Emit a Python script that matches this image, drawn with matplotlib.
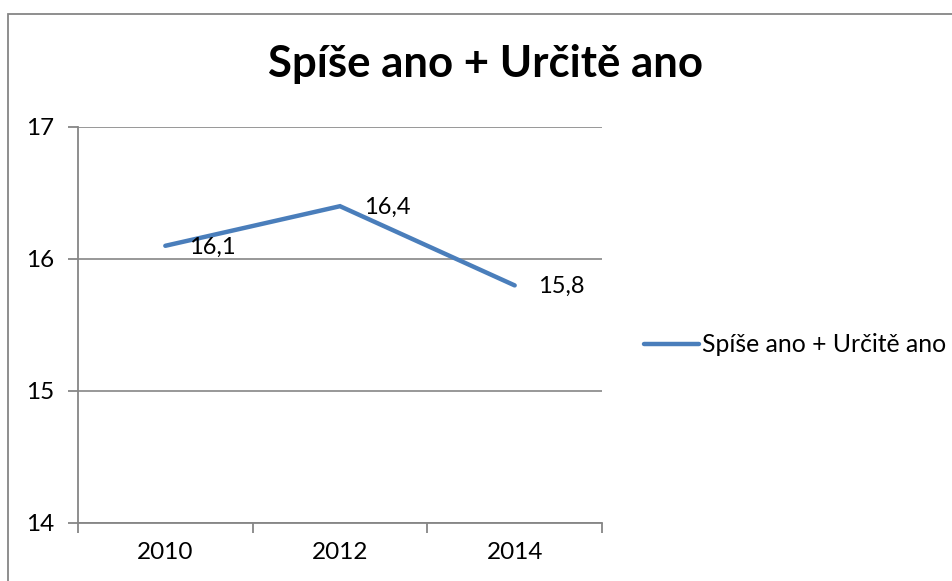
import matplotlib.pyplot as plt
from matplotlib.patches import Rectangle

plt.rcParams['font.family'] = ['Lato', 'DejaVu Sans']

years = ['2010', '2012', '2014']
values = [16.1, 16.4, 15.8]
labels = ['16,1', '16,4', '15,8']
series_name = 'Spíše ano + Určitě ano'

W, H = 952, 581
fig = plt.figure(figsize=(W / 100, H / 100), dpi=100)
ax = fig.add_axes([78 / W, 1 - 523 / H, (602 - 78) / W, (523 - 127) / H])

gray = '#868686'
blue = '#4a7ebb'

x = list(range(len(years)))
ax.plot(x, values, color=blue, lw=3.2, solid_capstyle='round',
        solid_joinstyle='miter', label=series_name, zorder=3)
for xi, v, lab in zip(x, values, labels):
    ax.annotate(lab, (xi, v), xytext=(17, -1), textcoords='offset points',
                ha='left', va='center', fontsize=17)

ax.set_xlim(-0.5, len(years) - 0.5)
ax.set_ylim(14, 17)
ax.set_yticks([14, 15, 16, 17])
ax.set_yticklabels(['14', '15', '16', '17'], fontsize=17.5)
ax.set_xticks(x)
ax.set_xticklabels(years, fontsize=17.5)
ax.set_xticks([i - 0.5 for i in range(len(years) + 1)], minor=True)
ax.tick_params(axis='x', which='major', length=0, pad=14)
ax.tick_params(axis='x', which='minor', length=7, color=gray, width=1.3)
ax.tick_params(axis='y', length=7, color=gray, width=1.3, pad=10)

ax.grid(axis='y', color=gray, lw=1.2)
ax.set_axisbelow(True)
for s in ['top', 'right']:
    ax.spines[s].set_visible(False)
for s in ['left', 'bottom']:
    ax.spines[s].set_color(gray)
    ax.spines[s].set_linewidth(1.3)

fig.text(486 / W, 1 - 64 / H, series_name, ha='center', va='center',
         fontsize=31.5, fontweight='bold')

leg = fig.legend(loc='center left', bbox_to_anchor=(622 / W, 1 - 345 / H),
                 frameon=False, fontsize=17.8, handlelength=2.2,
                 handletextpad=0.12)

fig.patches.append(Rectangle((8 / W, -0.1), 1.2, 1.1 - 14 / H,
                             transform=fig.transFigure, fill=False,
                             edgecolor=gray, lw=1.3))

fig.savefig('out.png', dpi=100)
